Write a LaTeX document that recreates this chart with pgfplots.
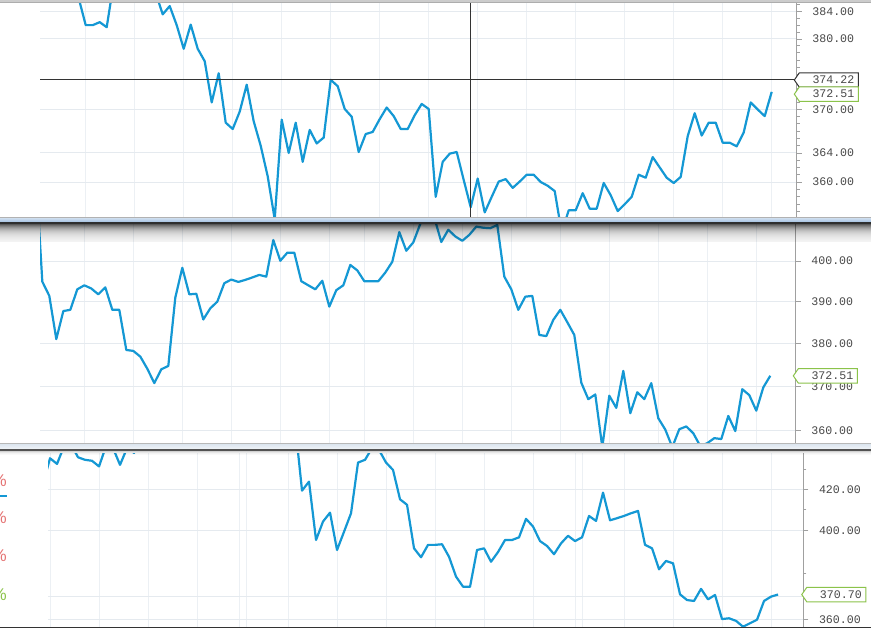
\documentclass[border=0pt]{standalone}
\usepackage{pgfplots}
\usepackage{pgfplotstable}
\pgfplotsset{compat=1.18}
\usepackage{fontspec}
\setmainfont{Liberation Sans}
\newfontfamily\monofont{Liberation Mono}
\definecolor{linec}{RGB}{20,152,212}
\definecolor{gridc}{RGB}{229,234,239}
\definecolor{vgridc}{RGB}{236,240,244}
\definecolor{axc}{RGB}{160,160,160}
\definecolor{labc}{RGB}{72,72,72}
\definecolor{tagg}{RGB}{139,195,74}
\definecolor{tagk}{RGB}{51,51,51}
\definecolor{redp}{RGB}{229,115,115}
\definecolor{greenp}{RGB}{139,195,74}
\newcommand{\tagfont}{\monofont\fontsize{11.6}{12}\selectfont}
% price tag at a named coordinate: #1 coordinate, #2 colour, #3 text
\newcommand{\pricetag}[3]{%
  \draw[draw=#2, fill=white, line width=1pt] (#1) -- ++(5pt,7.2pt) -- ++(59pt,0pt) -- ++(0pt,-14.4pt) -- ++(-59pt,0pt) -- cycle;
  \path (#1) ++(18pt,0pt) node[anchor=west, inner sep=0pt, font=\tagfont, text=labc] {#3};
}
\pgfplotsset{
  panel/.style={
    scale only axis,
    axis y line*=right,
    axis x line*=bottom,
    x axis line style={draw=none},
    y axis line style={draw=axc, line width=1pt},
    xticklabels={},
    xtick style={draw=none},
    ytick style={draw=axc, line width=0.8pt},
    xmajorgrids, ymajorgrids,
    x grid style={draw=vgridc, line width=1pt},
    y grid style={draw=gridc, line width=1pt},
    tick align=outside,
    major tick length=5pt,
    minor tick length=3pt,
    yticklabel style={font=\tagfont, text=labc, anchor=west, inner sep=0pt, xshift=10.5pt},
  },
  price/.style={draw=linec, line width=2.2pt, line join=round, mark=none},
}

% ---------------- data ----------------
\pgfplotstableread{
x y
-7 391
-6 392
-5 390
-4 391
-3 389
-2 390
-1 385.9
0 382.0
1 382.0
2 382.4
3 381.7
4 388.2
5 389
6 390
7 391
8 390
9 389
10 386.7
11 383.6
12 384.8
13 382.0
14 378.6
15 382.1
16 378.6
17 376.8
18 371.0
19 375.1
20 368.2
21 367.3
22 369.7
23 373.5
24 368.4
25 365.0
26 360.8
27 355.0
28 368.6
29 364.0
30 368.2
31 362.8
32 367.2
33 365.3
34 366.1
35 374.2
36 373.3
37 370.1
38 369.0
39 364.1
40 366.6
41 366.9
42 368.7
43 370.3
44 369.1
45 367.3
46 367.3
47 369.2
48 370.8
49 370.1
50 358.0
51 362.8
52 363.9
53 364.1
54 360.3
55 356.6
56 360.5
57 355.9
58 358.0
59 360.1
60 360.4
61 359.2
62 360.1
63 361.0
64 361.0
65 360.0
66 359.5
67 358.8
68 353.2
69 356.2
70 356.2
71 358.5
72 356.4
73 356.4
74 359.9
75 358.2
76 356.1
77 357.0
78 358.0
79 361.0
80 360.6
81 363.4
82 362.0
83 360.6
84 359.9
85 360.7
86 366.3
87 369.5
88 366.4
89 368.2
90 368.2
91 365.4
92 365.4
93 364.9
94 366.8
95 371.0
96 370.0
97 369.1
98 372.51
}\panelA

\pgfplotstableread{
x y
-1 425
0 395.0
1 391.5
2 381.1
3 387.8
4 388.1
5 393.1
6 394.1
7 393.3
8 391.9
9 393.6
10 388.1
11 388.1
12 378.5
13 378.3
14 377.0
15 374.1
16 370.8
17 374.0
18 374.8
19 391.1
20 398.4
21 391.9
22 392.0
23 385.8
24 388.5
25 390.1
26 394.6
27 395.5
28 394.9
29 395.4
30 396.0
31 396.6
32 396.2
33 405.3
34 400.1
35 402.1
36 402.1
37 395.1
38 394.1
39 393.1
40 395.2
41 388.9
42 392.9
43 394.1
44 399.1
45 397.8
46 395.1
47 395.1
48 395.1
49 397.2
50 399.9
51 407.3
52 402.6
53 404.7
54 409.4
55 412
56 411
57 404.8
58 407.9
59 406.2
60 405.1
61 406.6
62 408.7
63 408.4
64 408.3
65 409.1
66 396.2
67 393.1
68 388.1
69 391.3
70 391.5
71 382.1
72 381.8
73 385.7
74 388.1
75 385.1
76 382.1
77 370.9
78 367.1
79 368.2
80 356.3
81 367.9
82 365.1
83 373.6
84 363.9
85 368.7
86 367.1
87 370.8
88 362.8
89 360.2
90 356.3
91 360.3
92 360.9
93 359.4
94 356.5
95 357.2
96 358.3
97 358.1
98 363.3
99 359.9
100 369.4
101 368.0
102 364.5
103 369.8
104 372.51
}\panelB

\pgfplotstableread{
x y
-1 422.7
0 435.7
1 432.8
2 442
3 443
4 436.2
5 434.9
6 434.4
7 431.5
8 442
9 441
10 432.3
11 441
12 438.5
13 445
14 447
15 450
16 452
17 449
18 451
19 455
20 452
21 450
22 453
23 456
24 452
25 449
26 447
27 450
28 453
29 451
30 448
31 450
32 452
33 449
34 450
35 454
36 419.3
37 423.8
38 395.5
39 404.2
40 408.5
41 390.8
42 399.4
43 408.2
44 433.5
45 434.9
46 441
47 440
48 433.5
49 429.7
50 415.0
51 412.3
52 391.6
53 387.5
54 393.2
55 393.2
56 393.5
57 387.7
58 378.7
59 374.2
60 374.1
61 390.8
62 391.6
63 385.4
64 389.9
65 395.5
66 395.5
67 396.8
68 405.5
69 401.8
70 395.0
71 392.7
72 388.9
73 393.9
74 397.5
75 395.0
76 396.8
77 406.9
78 404.5
79 418.3
80 404.8
81 405.8
82 406.9
83 408.2
84 409.3
85 393.2
86 391.6
87 382.0
88 385.8
89 384.7
90 370.8
91 368.3
92 367.9
93 373.2
94 368.6
95 370.5
96 360.1
97 360.4
98 359.3
99 356.8
100 358.3
101 359.8
102 367.9
103 369.8
104 370.70
}\panelC

\begin{document}
\begin{tikzpicture}
\fill[white] (0pt,0pt) rectangle (871pt,628pt);

% ---------- panel 1 ----------
\begin{axis}[ymode=log, panel, at={(40pt,410.5pt)}, anchor=south west,
  width=756.7pt, height=217.5pt,
  xmin=-6.53, xmax=101.57, ymin=355.24, ymax=385.69,
  xtick={0,7,...,98},
  ytick={360,364,370,380,384},
  yticklabels={360.00,364.00,370.00,380.00,384.00},
  minor ytick={356,357,...,385},
]
\addplot[price] table {\panelA};
\draw[tagk, line width=1pt] (axis cs:-6.53,374.22) -- (axis cs:101.23,374.22);
\draw[tagk, line width=1pt] (axis cs:54.94,355.24) -- (axis cs:54.94,385.69);
\coordinate (tagA) at (axis cs:101.23,374.22);
\coordinate (tagB) at (axis cs:101.23,372.18);
\end{axis}

% ---------- panel 2 ----------
\begin{axis}[ymode=log, panel, at={(40pt,185pt)}, anchor=south west,
  width=755.7pt, height=218.5pt,
  xmin=-0.33, xmax=107.63, ymin=357.26, ymax=409.26,
  xtick={6,13,20,27,34,41,46,53,60,67,74,81,88,95,102},
  ytick={360,370,380,390,400},
  yticklabels={360.00,370.00,380.00,390.00,400.00},
]
\addplot[price] table {\panelB};
\coordinate (tagC) at (axis cs:107.29,372.51);
\end{axis}

% ---------- panel 3 ----------
\begin{axis}[ymode=log, panel, at={(48pt,0pt)}, anchor=south west,
  width=755.3pt, height=174.5pt,
  xmin=-0.29, xmax=107.61, ymin=356.30, ymax=438.21,
  xtick={0,7,14,21,27,28,34,41,48,55,62,69,75,76,82,89,96,103},
  ytick={360,370,400,420},
  yticklabels={360.00,,400.00,420.00},
  minor ytick={380,410,430},
]
\addplot[price] table {\panelC};
\coordinate (tagD) at (axis cs:107.39,370.70);
\end{axis}

% ---------- price tags ----------
\pricetag{tagA}{tagk}{374.22}
\pricetag{tagB}{tagg}{372.51}
\pricetag{tagC}{tagg}{372.51}
\pricetag{tagD}{tagg}{370.70}

% ---------- decorations: frame and separators ----------
\fill[black!20] (0pt,624.7pt) rectangle (871pt,628pt);
\fill[black!32] (0pt,624.7pt) rectangle (871pt,625.6pt);
% separator 1
\fill[black!30] (0pt,409pt) rectangle (871pt,410.6pt);
\shade[top color={rgb,255:red,196;green,215;blue,236}, bottom color={rgb,255:red,160;green,190;blue,224}] (0pt,405.5pt) rectangle (871pt,409pt);
\fill[black!82] (0pt,403.5pt) rectangle (871pt,405.5pt);
\foreach \i in {0,...,17}{
  \pgfmathsetmacro\op{0.66*exp(-\i/6.5)}
  \pgfmathsetmacro\ya{403.5-\i}
  \pgfmathsetmacro\yb{402.5-\i}
  \fill[black, opacity=\op] (0pt,\ya pt) rectangle (871pt,\yb pt);
}
% separator 2
\fill[black!28] (0pt,183.5pt) rectangle (871pt,185.2pt);
\shade[top color={rgb,255:red,222;green,231;blue,240}, bottom color={rgb,255:red,240;green,244;blue,248}] (0pt,179pt) rectangle (871pt,183.5pt);
\fill[black!68] (0pt,177pt) rectangle (871pt,179pt);
\foreach \i in {0,...,3}{
  \pgfmathsetmacro\op{0.18*exp(-\i/1.5)}
  \pgfmathsetmacro\ya{177-\i}
  \pgfmathsetmacro\yb{176-\i}
  \fill[black, opacity=\op] (0pt,\ya pt) rectangle (871pt,\yb pt);
}
% bottom edge
\fill[black!80] (0pt,0pt) rectangle (871pt,1.3pt);

% ---------- legend fragments on the left of panel 3 ----------
\begin{scope}
\clip (0pt,0pt) rectangle (40pt,170pt);
\node[anchor=east, inner sep=0pt, text=redp, font=\fontsize{17}{17}\selectfont] at (7pt,147pt) {\%};
\node[anchor=east, inner sep=0pt, text=redp, font=\fontsize{17}{17}\selectfont] at (7pt,110pt) {\%};
\node[anchor=east, inner sep=0pt, text=redp, font=\fontsize{17}{17}\selectfont] at (7pt,72pt) {\%};
\node[anchor=east, inner sep=0pt, text=greenp, font=\fontsize{17}{17}\selectfont] at (7pt,33pt) {\%};
\end{scope}
\draw[linec, line width=2pt] (0pt,132.3pt) -- (7pt,132.3pt);
\pgfresetboundingbox
\useasboundingbox (0pt,0pt) rectangle (871pt,628pt);
\end{tikzpicture}
\end{document}
